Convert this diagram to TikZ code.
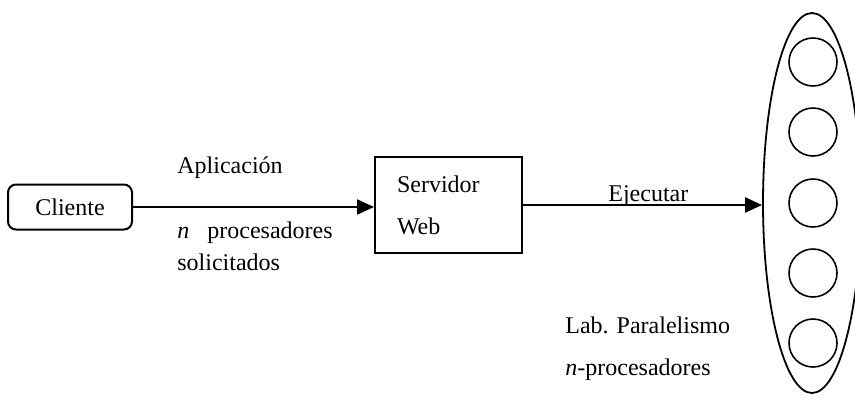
\documentclass[tikz,border=0pt]{standalone}
\usepackage{fontspec}
\setmainfont{Liberation Serif}
\usetikzlibrary{arrows.meta,shapes.geometric}

\begin{document}
\begin{tikzpicture}[x=.5pt,y=-.5pt,
 box/.style={draw,line width=1pt,minimum width=62pt,minimum height=22.5pt,rounded corners=4pt,font=\fontsize{12}{14}\selectfont},
 server/.style={draw,line width=1pt,minimum width=73.5pt,minimum height=48pt,align=left,text width=51.5pt,font=\fontsize{12}{14}\selectfont},
 lab/.style={ellipse,draw,line width=.9pt,minimum width=49pt,minimum height=190pt},
 proc/.style={circle,draw,line width=.8pt,minimum size=24pt,inner sep=0pt},
 txt/.style={anchor=base west,inner sep=0pt,font=\fontsize{12}{14}\selectfont},
 arr/.style={-{Triangle[length=8.5pt,width=7.5pt]},line width=1.1pt}]
 \useasboundingbox (0,0) rectangle (855,398);
 \node[box] (cli) at (70,207) {Cliente};
 \node[server] (srv) at (448.5,205) {Servidor\\[7pt]Web};
 \node[lab] (lab) at (812,203) {};
 \foreach \y [count=\i] in {62,132,203,273,343}
  \node[proc] (p\i) at (813,\y) {};
 \draw[arr] (cli.east) -- (cli.east -| srv.west);
 \draw[arr] (srv.east) -- (srv.east -| lab.west);
 % labels
 \node[txt] (app) at (177,173) {Aplicación};
 \node[txt] (nproc) at (177,238) {\textit{n}\hspace{9pt}procesadores};
 \node[txt] (sol) at (177,270) {solicitados};
 \node[txt] (exe) at (608,201) {Ejecutar};
 \node[txt] (par) at (565,333) {Lab. Paralelismo};
 \node[txt] (npar) at (565,375) {\textit{n}-procesadores};
\end{tikzpicture}
\end{document}
